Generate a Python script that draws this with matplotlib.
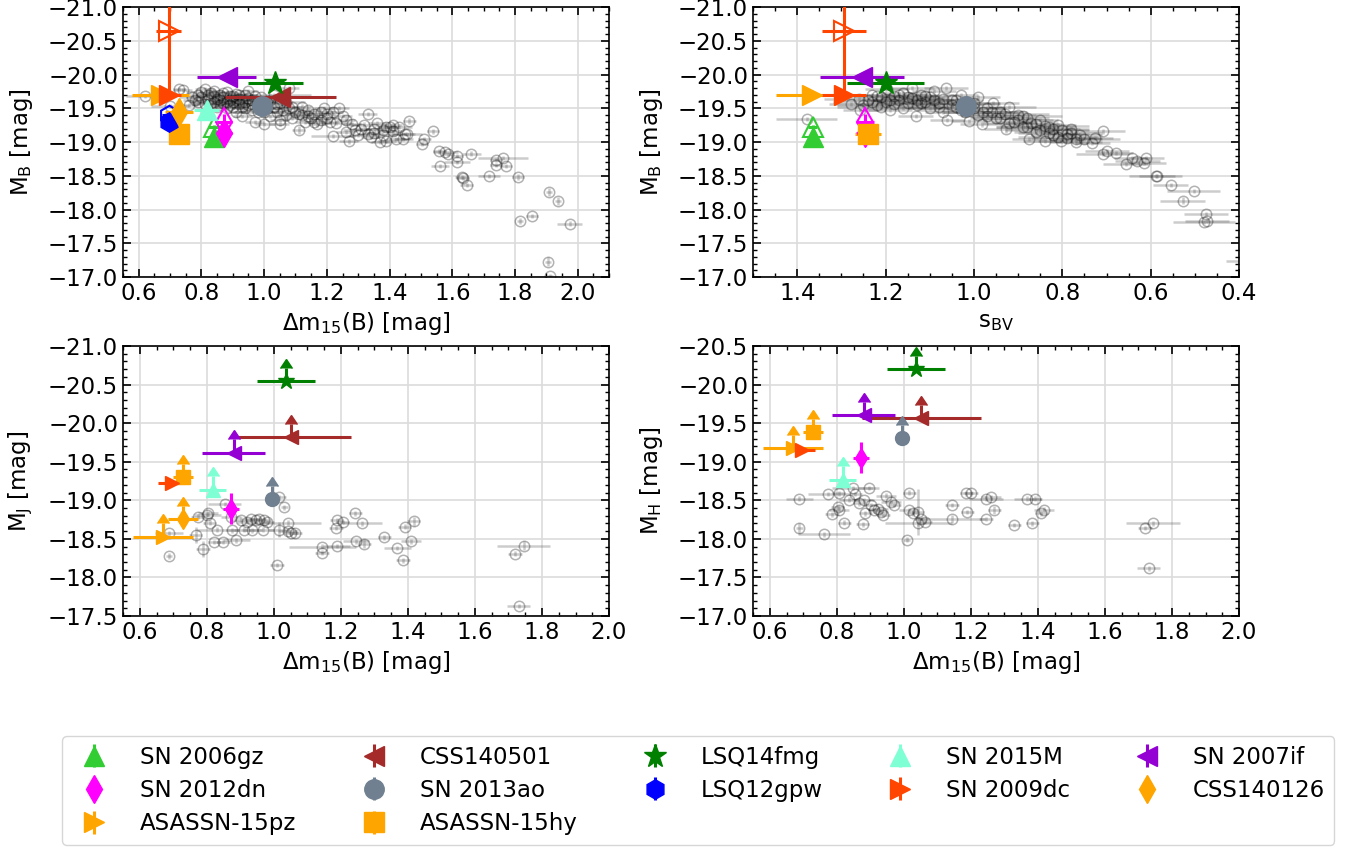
import numpy as np
import matplotlib
matplotlib.use("Agg")
import matplotlib.pyplot as plt
from matplotlib.ticker import AutoMinorLocator, MultipleLocator
from matplotlib.container import ErrorbarContainer

# ---- comparison sample: dm15(B) vs M_B (top left)
cb_dm15 = [0.62, 0.70, 0.73, 0.74, 0.76, 0.78, 0.79, 0.80, 0.81, 0.81, 0.82, 0.83, 0.84, 0.84,
           0.85, 0.85, 0.86, 0.87, 0.87, 0.88, 0.88, 0.89, 0.89, 0.90, 0.90, 0.91, 0.91, 0.92,
           0.92, 0.93, 0.93, 0.94, 0.94, 0.95, 0.95, 0.96, 0.96, 0.97, 0.98, 0.99, 1.00, 1.00,
           1.01, 1.02, 1.03, 1.03, 1.04, 1.05, 1.05, 1.05, 1.07, 1.08, 1.08, 1.09, 1.10, 1.11,
           1.12, 1.13, 1.14, 1.15, 1.16, 1.17, 1.18, 1.19, 1.20, 1.21, 1.22, 1.22, 1.24, 1.25,
           1.26, 1.27, 1.28, 1.31, 1.33, 1.33, 1.34, 1.35, 1.36, 1.37, 1.38, 1.39, 1.40, 1.42,
           1.45, 1.463, 1.538, 1.511, 1.504, 1.455, 1.444, 1.389, 1.41, 1.559, 1.578, 1.585,
           1.615, 1.615, 1.661, 1.561, 1.63, 1.633, 1.646, 1.717, 1.739, 1.763, 1.739, 1.771,
           1.81, 1.908, 1.938, 1.855, 1.815, 1.975, 1.905, 1.911]
cb_mb = [-19.68, -19.53, -19.78, -19.77, -19.55, -19.62, -19.70, -19.66, -19.79, -19.56, -19.62,
         -19.72, -19.60, -19.68, -19.52, -19.64, -19.70, -19.58, -19.66, -19.74, -19.50, -19.62,
         -19.55, -19.68, -19.60, -19.45, -19.71, -19.57, -19.64, -19.52, -19.38, -19.60, -19.69,
         -19.55, -19.76, -19.47, -19.62, -19.30, -19.57, -19.66, -19.45, -19.27, -19.60, -19.38,
         -19.52, -19.70, -19.45, -19.33, -19.58, -19.27, -19.40, -19.80, -19.50, -19.35, -19.45,
         -19.18, -19.40, -19.30, -19.48, -19.35, -19.42, -19.26, -19.33, -19.50, -19.42, -19.30,
         -19.45, -19.09, -19.51, -19.38, -19.15, -19.01, -19.27, -19.20, -19.41, -19.12, -19.08,
         -19.20, -19.28, -19.00, -19.18, -19.23, -19.22, -19.05, -19.12, -19.31, -19.16, -19.04,
         -18.97, -19.12, -19.04, -19.01, -19.25, -18.86, -18.85, -18.82, -18.79, -18.70, -18.83,
         -18.64, -18.48, -18.47, -18.36, -18.50, -18.74, -18.76, -18.66, -18.64, -18.48, -18.26,
         -18.12, -17.91, -17.83, -17.79, -17.23, -17.01]
cb_dm15_err = [0.06, 0.06, 0.02, 0.03, 0.03, 0.04, 0.03, 0.05, 0.03, 0.04, 0.02, 0.03, 0.03, 0.05,
               0.03, 0.02, 0.03, 0.04, 0.03, 0.02, 0.03, 0.03, 0.05, 0.03, 0.02, 0.03, 0.04, 0.03,
               0.03, 0.02, 0.03, 0.03, 0.04, 0.03, 0.03, 0.03, 0.05, 0.03, 0.03, 0.03, 0.04, 0.03,
               0.03, 0.03, 0.03, 0.12, 0.03, 0.03, 0.04, 0.03, 0.03, 0.03, 0.03, 0.03, 0.05, 0.02,
               0.03, 0.03, 0.04, 0.03, 0.03, 0.03, 0.03, 0.03, 0.03, 0.03, 0.03, 0.07, 0.03, 0.03,
               0.03, 0.03, 0.03, 0.03, 0.03, 0.03, 0.03, 0.03, 0.03, 0.03, 0.03, 0.03, 0.03, 0.03,
               0.03, 0.02, 0.02, 0.02, 0.02, 0.05, 0.03, 0.03, 0.03, 0.02, 0.04, 0.02, 0.02, 0.04,
               0.03, 0.03, 0.02, 0.02, 0.02, 0.035, 0.02, 0.08, 0.02, 0.02, 0.02, 0.01, 0.01, 0.02,
               0.01, 0.04, 0.01, 0.01]
cb_mb_err = [0.03] * 55 + [0.06] + [0.03] * 15 + [0.04] + [0.03] * 13 + \
            [0.05, 0.04, 0.03, 0.03, 0.03, 0.03, 0.03, 0.03, 0.03, 0.03, 0.03, 0.03, 0.03, 0.03,
             0.03, 0.03, 0.03, 0.03, 0.03, 0.03, 0.03, 0.03, 0.03, 0.04, 0.06, 0.06, 0.03, 0.04,
             0.04, 0.06, 0.04]
# crowded core of the dm15(B)-M_B relation
cb_core_dm15 = [0.77, 0.79, 0.80, 0.82, 0.83, 0.84, 0.86, 0.86, 0.87, 0.88, 0.89, 0.90, 0.91,
                0.92, 0.93, 0.94, 0.95, 0.96, 0.97, 0.98, 0.99, 1.01, 1.02, 1.04, 1.06, 1.07,
                1.09, 1.11, 1.12, 1.14, 1.16, 1.18, 1.20, 1.23, 1.26, 1.29, 1.30, 1.32, 1.35,
                1.38, 1.41, 1.43]
cb_core_mb = [-19.66, -19.60, -19.74, -19.70, -19.58, -19.75, -19.62, -19.55, -19.72, -19.60,
              -19.68, -19.52, -19.63, -19.70, -19.60, -19.50, -19.65, -19.56, -19.68, -19.45,
              -19.55, -19.50, -19.62, -19.56, -19.48, -19.60, -19.52, -19.42, -19.52, -19.38,
              -19.30, -19.44, -19.35, -19.28, -19.33, -19.18, -19.10, -19.25, -19.13, -19.10,
              -19.16, -19.22]
cb_core_dm15_err = [0.04, 0.03, 0.05, 0.03, 0.06, 0.03, 0.04, 0.03, 0.05, 0.03, 0.04, 0.03,
                    0.06, 0.03, 0.04, 0.03, 0.05, 0.03, 0.04, 0.08, 0.03, 0.05, 0.03, 0.04,
                    0.03, 0.06, 0.03, 0.04, 0.03, 0.05, 0.03, 0.04, 0.03, 0.05, 0.03, 0.04,
                    0.03, 0.05, 0.03, 0.04, 0.03, 0.04]
cb_core_mb_err = [0.03, 0.04, 0.03, 0.03, 0.04, 0.03, 0.03, 0.04, 0.03, 0.03, 0.04, 0.03,
                  0.03, 0.04, 0.03, 0.03, 0.04, 0.03, 0.03, 0.04, 0.03, 0.03, 0.04, 0.03,
                  0.03, 0.04, 0.03, 0.03, 0.04, 0.03, 0.03, 0.04, 0.03, 0.03, 0.04, 0.03,
                  0.03, 0.04, 0.03, 0.03, 0.04, 0.03]

# ---- comparison sample: s_BV vs M_B (top right)
cs_sbv = [1.379, 1.279, 1.257, 1.24, 1.23, 1.22, 1.21, 1.196, 1.20, 1.19, 1.18, 1.17, 1.16, 1.15,
          1.14, 1.14, 1.132, 1.13, 1.12, 1.11, 1.10, 1.10, 1.09, 1.08, 1.07, 1.064, 1.06, 1.05,
          1.04, 1.03, 1.02, 1.011, 1.00, 0.99, 0.99, 0.981, 0.97, 0.958, 0.95, 0.94, 0.928, 0.92,
          0.91, 0.90, 0.89, 0.88, 0.875, 0.87, 0.86, 0.85, 0.839, 0.83, 0.82, 0.81, 0.804, 0.80,
          0.79, 0.78, 0.77, 0.76, 0.732, 0.709, 0.725, 0.698, 0.679, 0.709, 0.657, 0.642, 0.630,
          0.611, 0.615, 0.589, 0.586, 0.555, 0.502, 0.528, 0.475, 0.479, 0.472, 0.37]
cs_mb = [-19.34, -19.57, -19.48, -19.62, -19.70, -19.55, -19.66, -19.79, -19.60, -19.48, -19.68,
         -19.62, -19.72, -19.58, -19.80, -19.65, -19.38, -19.55, -19.70, -19.60, -19.50, -19.66,
         -19.75, -19.58, -19.45, -19.80, -19.33, -19.62, -19.52, -19.70, -19.44, -19.31, -19.58,
         -19.66, -19.40, -19.26, -19.50, -19.58, -19.35, -19.45, -19.19, -19.52, -19.30, -19.40,
         -19.23, -19.35, -19.04, -19.28, -19.15, -19.32, -19.01, -19.22, -19.10, -19.25, -19.01,
         -19.18, -19.12, -19.20, -19.04, -19.10, -18.99, -19.16, -19.06, -18.87, -18.84, -18.83,
         -18.67, -18.77, -18.72, -18.77, -18.69, -18.50, -18.49, -18.37, -18.28, -18.13, -17.93,
         -17.81, -17.83, -17.24]
cs_sbv_err = [0.07, 0.05, 0.04, 0.06, 0.05, 0.04, 0.06, 0.05, 0.04, 0.05, 0.04, 0.06, 0.05, 0.04,
              0.05, 0.07, 0.04, 0.05, 0.04, 0.06, 0.05, 0.04, 0.05, 0.06, 0.04, 0.05, 0.04, 0.06,
              0.05, 0.04, 0.05, 0.04, 0.06, 0.05, 0.04, 0.05, 0.04, 0.06, 0.05, 0.04, 0.05, 0.06,
              0.05, 0.04, 0.06, 0.05, 0.04, 0.06, 0.05, 0.04, 0.05, 0.06, 0.05, 0.04, 0.05, 0.06,
              0.05, 0.04, 0.06, 0.05, 0.04, 0.05, 0.04, 0.05, 0.04, 0.06, 0.05, 0.04, 0.05, 0.04,
              0.05, 0.06, 0.04, 0.04, 0.06, 0.05, 0.05, 0.07, 0.05, 0.06]
cs_mb_err = [0.03] * 40 + [0.06] + [0.03] * 20 + [0.04] + [0.03] * 13 + [0.05, 0.03, 0.03, 0.03, 0.03]
# crowded core of the s_BV-M_B relation
cs_core_sbv = [1.26, 1.25, 1.23, 1.22, 1.21, 1.19, 1.18, 1.17, 1.16, 1.15, 1.13, 1.12, 1.11,
               1.09, 1.08, 1.07, 1.05, 1.04, 1.03, 1.02, 1.00, 0.98, 0.97, 0.96, 0.94, 0.93,
               0.92, 0.90, 0.89, 0.88, 0.86, 0.85, 0.84, 0.83, 0.82, 0.81, 0.79, 0.78, 0.77, 0.75]
cs_core_mb = [-19.64, -19.55, -19.60, -19.68, -19.52, -19.62, -19.56, -19.70, -19.50, -19.66,
              -19.62, -19.58, -19.68, -19.62, -19.52, -19.64, -19.55, -19.62, -19.48, -19.56,
              -19.50, -19.45, -19.38, -19.44, -19.36, -19.42, -19.28, -19.32, -19.38, -19.22,
              -19.26, -19.18, -19.24, -19.14, -19.19, -19.08, -19.06, -19.14, -19.00, -19.05]
cs_core_sbv_err = [0.08, 0.06, 0.09, 0.07, 0.10, 0.06, 0.08, 0.07, 0.09, 0.06, 0.08, 0.10,
                   0.07, 0.06, 0.09, 0.08, 0.07, 0.06, 0.10, 0.08, 0.07, 0.09, 0.06, 0.08,
                   0.07, 0.10, 0.06, 0.08, 0.09, 0.07, 0.06, 0.08, 0.10, 0.07, 0.06, 0.09,
                   0.08, 0.07, 0.06, 0.08]
cs_core_mb_err = [0.03, 0.04, 0.03, 0.03, 0.04, 0.03, 0.03, 0.04, 0.03, 0.03, 0.04, 0.03,
                  0.03, 0.04, 0.03, 0.03, 0.04, 0.03, 0.03, 0.04, 0.03, 0.03, 0.04, 0.03,
                  0.03, 0.04, 0.03, 0.03, 0.04, 0.03, 0.03, 0.04, 0.03, 0.03, 0.04, 0.03,
                  0.03, 0.04, 0.03, 0.03]

# ---- comparison sample: dm15(B) vs M_J (bottom left)
cj_dm15 = [0.687, 0.687, 0.767, 0.774, 0.788, 0.803, 0.808, 0.801, 0.822, 0.831, 0.848, 0.853,
           0.871, 0.876, 0.888, 0.901, 0.911, 0.921, 0.931, 0.936, 0.946, 0.956, 0.969, 0.971,
           0.981, 1.009, 1.016, 1.016, 1.031, 1.041, 1.041, 1.051, 1.064, 1.145, 1.143, 1.187,
           1.185, 1.188, 1.205, 1.243, 1.245, 1.263, 1.27, 1.33, 1.368, 1.385, 1.39, 1.41, 1.417,
           1.719, 1.745, 1.73]
cj_mj = [-18.57, -18.28, -18.55, -18.79, -18.37, -18.83, -18.71, -18.81, -18.46, -18.62, -18.46,
         -18.95, -18.78, -18.61, -18.48, -18.75, -18.62, -18.72, -18.76, -18.61, -18.74, -18.76,
         -18.62, -18.74, -18.72, -18.16, -19.04, -18.62, -18.91, -18.71, -18.60, -18.57, -18.58,
         -18.40, -18.32, -18.74, -18.64, -18.41, -18.72, -18.83, -18.47, -18.70, -18.44, -18.52,
         -18.38, -18.22, -18.66, -18.47, -18.73, -18.31, -18.41, -17.63]
cj_dm15_err = [0.042, 0.01, 0.02, 0.02, 0.02, 0.03, 0.02, 0.04, 0.02, 0.06, 0.02, 0.05, 0.03,
               0.02, 0.04, 0.03, 0.03, 0.03, 0.02, 0.03, 0.02, 0.02, 0.03, 0.02, 0.02, 0.02,
               0.02, 0.03, 0.01, 0.10, 0.03, 0.02, 0.02, 0.10, 0.02, 0.02, 0.02, 0.04, 0.02,
               0.02, 0.04, 0.06, 0.02, 0.02, 0.04, 0.02, 0.02, 0.03, 0.02, 0.02, 0.08, 0.035]
cj_mj_err = [0.03, 0.04, 0.10, 0.03, 0.10] + [0.03] * 22 + [0.10] + [0.03] * 14 + [0.06] + \
            [0.03] * 5 + [0.06, 0.03, 0.06, 0.03]

# ---- comparison sample: dm15(B) vs M_H (bottom right)
ch_dm15 = [0.688, 0.688, 0.762, 0.775, 0.805, 0.785, 0.802, 0.807, 0.822, 0.835, 0.847, 0.855,
           0.867, 0.877, 0.882, 0.885, 0.897, 0.902, 0.912, 0.922, 0.932, 0.939, 0.947, 0.962,
           0.972, 1.008, 1.016, 1.016, 1.026, 1.041, 1.043, 1.051, 1.064, 1.143, 1.143, 1.186,
           1.189, 1.20, 1.245, 1.245, 1.26, 1.27, 1.33, 1.368, 1.392, 1.383, 1.41, 1.417, 1.719,
           1.743, 1.73]
ch_mh = [-18.52, -18.14, -18.06, -18.58, -18.59, -18.32, -18.41, -18.38, -18.21, -18.51, -18.66,
         -18.58, -18.46, -18.19, -18.50, -18.33, -18.66, -18.44, -18.37, -18.39, -18.35, -18.31,
         -18.56, -18.48, -18.44, -17.99, -18.60, -18.37, -18.33, -18.35, -18.20, -18.26, -18.22,
         -18.44, -18.26, -18.59, -18.35, -18.59, -18.52, -18.26, -18.54, -18.37, -18.18, -18.52,
         -18.52, -18.20, -18.33, -18.38, -18.14, -18.20, -17.62]
ch_dm15_err = [0.04, 0.01, 0.077, 0.06, 0.02, 0.02, 0.02, 0.03, 0.02, 0.03, 0.06, 0.02, 0.02,
               0.02, 0.03, 0.02, 0.03, 0.02, 0.02, 0.03, 0.02, 0.02, 0.03, 0.03, 0.02, 0.01,
               0.02, 0.03, 0.02, 0.02, 0.10, 0.02, 0.02, 0.02, 0.10, 0.02, 0.02, 0.02, 0.05,
               0.02, 0.03, 0.02, 0.02, 0.04, 0.02, 0.02, 0.02, 0.03, 0.02, 0.08, 0.035]
ch_mh_err = [0.03, 0.07] + [0.03] * 27 + [0.30] + [0.03] * 4 + [0.05] + [0.03] * 6 + [0.05] + \
            [0.03] * 9

# ---- peculiar SNe Ia (legend order)
sn_names = ["SN 2006gz", "SN 2012dn", "ASASSN-15pz", "CSS140501", "SN 2013ao", "ASASSN-15hy",
            "LSQ14fmg", "LSQ12gpw", "SN 2015M", "SN 2009dc", "SN 2007if", "CSS140126"]
sn_dm15 = [0.84, 0.872, 0.67, 1.052, 0.993, 0.728, 1.036, 0.695, 0.817, 0.695, 0.88, 0.729]
sn_dm15_err = [0.02, 0.025, 0.09, 0.177, 0.02, 0.03, 0.087, 0.02, 0.04, 0.04, 0.093, 0.044]
sn_sbv = [1.365, 1.247, 1.367, np.nan, 1.019, 1.24, 1.20, np.nan, np.nan, 1.295, 1.253, np.nan]
sn_sbv_err = [0.01, 0.02, 0.08, np.nan, 0.01, 0.03, 0.087, np.nan, np.nan, 0.05, 0.095, np.nan]
sn_mb = [-19.08, -19.14, -19.70, -19.66, -19.53, -19.12, -19.88, -19.30, -19.48, -19.70,
         -19.97, -19.44]
sn_mb_err = [0.03, 0.12, 0.05, 0.03, 0.03, 0.05, 0.05, 0.05, 0.04, 0.05, 0.03, 0.05]
sn_mb_alt = [-19.22, -19.30, np.nan, np.nan, np.nan, np.nan, np.nan, -19.40, np.nan, -20.65,
             np.nan, np.nan]
sn_mb_alt_err = [0.03, 0.12, np.nan, np.nan, np.nan, np.nan, np.nan, 0.05, np.nan, 0.95,
                 np.nan, np.nan]
sn_mj = [np.nan, -18.89, -18.53, -19.82, -19.02, -19.30, -20.55, np.nan, -19.14, -19.22,
         -19.62, -18.76]
sn_mj_err = [np.nan, 0.2, 0.02, 0.02, 0.02, 0.03, 0.02, np.nan, 0.03, 0.03, 0.02, 0.03]
sn_mj_lim = [False, False, True, True, True, True, True, False, True, False, True, True]
sn_mh = [np.nan, -19.05, -19.18, -19.57, -19.31, -19.39, -20.20, np.nan, -18.77, -19.15,
         -19.60, np.nan]
sn_mh_err = [np.nan, 0.2, 0.02, 0.02, 0.02, 0.03, 0.02, np.nan, 0.03, 0.03, 0.02, np.nan]
sn_mh_lim = [False, False, True, True, True, True, True, False, True, False, True, False]
lim_len = 0.17

sn_colors = ["limegreen", "magenta", "orange", "brown", "slategray", "orange",
             "green", "blue", "aquamarine", "orangered", "darkviolet", "orange"]
sn_markers = ["^", "d", ">", "<", "o", "s", "*", "h", "^", ">", "<", "d"]

FS = 16.5
fig = plt.figure(figsize=(13.61, 8.49), dpi=100)
W, H = 0.3571, 0.3180
ax_tl = fig.add_axes([0.0904, 0.6737, W, H])
ax_tr = fig.add_axes([0.5533, 0.6737, W, H])
ax_bl = fig.add_axes([0.0904, 0.2744, W, H])
ax_br = fig.add_axes([0.5533, 0.2744, W, H])


def style(ax, xlim, ylim, xlabel, ylabel):
    ax.set_xlim(*xlim)
    ax.set_ylim(*ylim)
    ax.xaxis.set_major_locator(MultipleLocator(0.2))
    ax.yaxis.set_major_locator(MultipleLocator(0.5))
    ax.xaxis.set_minor_locator(AutoMinorLocator(4))
    ax.yaxis.set_minor_locator(AutoMinorLocator(5))
    ax.tick_params(which="both", direction="in", top=True, right=True, labelsize=FS)
    ax.tick_params(which="major", length=6, width=1.2)
    ax.tick_params(which="minor", length=3, width=1)
    ax.grid(True, color="0.86", lw=1.2)
    ax.set_axisbelow(True)
    ax.set_xlabel(xlabel, fontsize=FS, labelpad=4)
    ax.set_ylabel(ylabel, fontsize=FS, labelpad=9)
    for s in ax.spines.values():
        s.set_linewidth(1.2)


dm_lab = r"Δm$_{15}$(B) [mag]"
style(ax_tl, (0.55, 2.1), (-17, -21), dm_lab, r"M$_\mathrm{B}$ [mag]")
style(ax_tr, (1.5, 0.4), (-17, -21), r"s$_\mathrm{BV}$", r"M$_\mathrm{B}$ [mag]")
style(ax_bl, (0.55, 2.0), (-17.5, -21), dm_lab, r"M$_\mathrm{J}$ [mag]")
style(ax_br, (0.55, 2.0), (-17, -20.5), dm_lab, r"M$_\mathrm{H}$ [mag]")

grey = dict(fmt="o", ms=7.5, mfc="none", mec="k", mew=1.1, ecolor="0.35", elinewidth=1.8,
            alpha=0.3, zorder=2)
ax_tl.errorbar(cb_dm15, cb_mb, xerr=cb_dm15_err, yerr=cb_mb_err, **grey)
ax_tl.errorbar(cb_core_dm15, cb_core_mb, xerr=cb_core_dm15_err, yerr=cb_core_mb_err, **grey)
ax_tr.errorbar(cs_sbv, cs_mb, xerr=cs_sbv_err, yerr=cs_mb_err, **grey)
ax_tr.errorbar(cs_core_sbv, cs_core_mb, xerr=cs_core_sbv_err, yerr=cs_core_mb_err, **grey)
ax_bl.errorbar(cj_dm15, cj_mj, xerr=cj_dm15_err, yerr=cj_mj_err, **grey)
ax_br.errorbar(ch_dm15, ch_mh, xerr=ch_dm15_err, yerr=ch_mh_err, **grey)

handles = []
for i, name in enumerate(sn_names):
    c, m = sn_colors[i], sn_markers[i]
    ms_top = 14 if m != "*" else 17
    ms_bot = 10 if m != "*" else 12
    # top left: dm15 vs M_B
    if not np.isnan(sn_mb_alt[i]):
        ax_tl.errorbar(sn_dm15[i], sn_mb_alt[i], xerr=sn_dm15_err[i], yerr=sn_mb_alt_err[i],
                       fmt=m, color=c, mfc="none", mew=1.5, ms=ms_top, elinewidth=2.2, zorder=4)
    eb = ax_tl.errorbar(sn_dm15[i], sn_mb[i], xerr=sn_dm15_err[i], yerr=sn_mb_err[i],
                        fmt=m, color=c, ms=ms_top, elinewidth=2.2, zorder=5)
    line, caps, bars = eb.lines
    handles.append(ErrorbarContainer((line, caps, bars), has_xerr=False, has_yerr=True))
    # top right: s_BV vs M_B
    if not np.isnan(sn_sbv[i]):
        if not np.isnan(sn_mb_alt[i]):
            ax_tr.errorbar(sn_sbv[i], sn_mb_alt[i], xerr=sn_sbv_err[i], yerr=sn_mb_alt_err[i],
                           fmt=m, color=c, mfc="none", mew=1.5, ms=ms_top, elinewidth=2.2,
                           zorder=4)
        ax_tr.errorbar(sn_sbv[i], sn_mb[i], xerr=sn_sbv_err[i], yerr=sn_mb_err[i],
                       fmt=m, color=c, ms=ms_top, elinewidth=2.2, zorder=5)
    # bottom: NIR
    for ax, mag, err, lim in [(ax_bl, sn_mj, sn_mj_err, sn_mj_lim),
                              (ax_br, sn_mh, sn_mh_err, sn_mh_lim)]:
        if np.isnan(mag[i]):
            continue
        ax.errorbar(sn_dm15[i], mag[i], xerr=sn_dm15_err[i], yerr=err[i],
                    fmt=m, color=c, ms=ms_bot, elinewidth=2.2, zorder=5)
        if lim[i]:
            ax.errorbar(sn_dm15[i], mag[i], yerr=lim_len, uplims=True, fmt="none",
                        color=c, ecolor=c, elinewidth=2.2, capsize=4.5, zorder=5)

fig.legend(handles, sn_names, loc="upper left", bbox_to_anchor=(0.0455, 0.0, 0.935, 0.1331),
           mode="expand", ncol=5, fontsize=FS, borderaxespad=0, handlelength=2.0,
           handletextpad=1.0, labelspacing=0.45, borderpad=0.42)

fig.savefig("out.png", dpi=100)
